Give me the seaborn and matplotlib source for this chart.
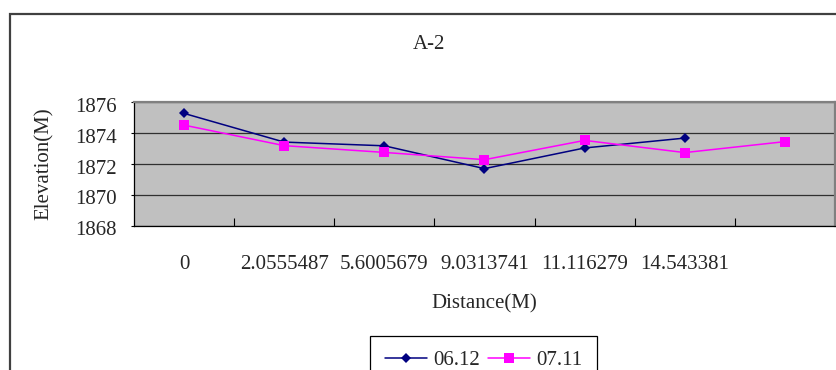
import numpy as np
import matplotlib
matplotlib.use("Agg")
import matplotlib.pyplot as plt
import seaborn as sns
from matplotlib.patches import Rectangle
from matplotlib.transforms import ScaledTranslation

# Cross-section A-2: elevation along the profile for two survey dates
distance_labels = ["0", "2.0555487", "5.6005679", "9.0313741",
                   "11.116279", "14.543381", ""]
elev_0612 = [1875.28, 1873.42, 1873.18, 1871.70, 1873.04, 1873.68, np.nan]
elev_0711 = [1874.52, 1873.19, 1872.75, 1872.28, 1873.53, 1872.74, 1873.45]
series_names = ["06.12", "07.11"]
y_ticks = [1868, 1870, 1872, 1874, 1876]

sns.set_style("white")
plt.rcParams["font.family"] = ["Liberation Serif", "DejaVu Serif"]
plt.rcParams["font.size"] = 15

W, H = 837, 370
fig = plt.figure(figsize=(W / 100, H / 100), dpi=100)
fig.patch.set_facecolor("white")

# chart frame (runs off the right and bottom edges)
fig.add_artist(Rectangle((9.5 / W, -0.2), 1.2, 1.2 - 14 / H,
                         transform=fig.transFigure, fill=False,
                         edgecolor="#404040", linewidth=1.6))

ax = fig.add_axes([134 / W, 1 - 225.7 / H, (835 - 134) / W, (225.7 - 102.3) / H])
ax.set_facecolor("#C0C0C0")
ax.set_axisbelow(True)

pos = np.arange(len(distance_labels))
sns.lineplot(x=pos, y=elev_0612, ax=ax, color="#000080", marker="D",
             markersize=5.2, markeredgewidth=0, linewidth=1.1,
             label=series_names[0], errorbar=None)
sns.lineplot(x=pos, y=elev_0711, ax=ax, color="#FF00FF", marker="s",
             markersize=6.7, markeredgewidth=0, linewidth=1.1,
             label=series_names[1], errorbar=None)

ax.set_xlim(-0.5, len(distance_labels) - 0.5)
ax.set_ylim(y_ticks[0], y_ticks[-1])

# category boundaries carry the tick marks, category centres carry the labels
ax.set_xticks(np.arange(0.5, len(distance_labels), 1))
ax.set_xticklabels([])
ax.set_xticks(pos, labels=distance_labels, minor=True)
ax.tick_params(axis="x", which="major", direction="in", length=5.8,
               width=0.8, color="black", bottom=True)
ax.tick_params(axis="x", which="minor", length=0, pad=21, labelsize=15,
               bottom=True)

ax.set_yticks(y_ticks)
ax.tick_params(axis="y", direction="out", length=2.2, width=0.8,
               color="black", pad=10, labelsize=15, left=True)
for lab in ax.get_yticklabels():
    lab.set_transform(lab.get_transform() +
                      ScaledTranslation(0, -2.5 / 100, fig.dpi_scale_trans))

ax.yaxis.grid(True, color="#303030", linewidth=0.9)
ax.xaxis.grid(False)

for side in ("top", "right"):
    ax.spines[side].set_color("#808080")
    ax.spines[side].set_linewidth(1.6)
for side in ("left", "bottom"):
    ax.spines[side].set_color("black")
    ax.spines[side].set_linewidth(0.9)

ax.set_xlabel("Distance(M)", fontsize=15)
ax.set_ylabel("Elevation(M)", fontsize=15)
ax.xaxis.set_label_coords(0.5, -(294 - 225.7) / 123.4)
ax.yaxis.set_label_coords((54 - 134) / 701, 0.5)

fig.text(429 / W, 1 - 44.5 / H, "A-2", ha="center", va="center", fontsize=15)

ax.legend(loc="upper center", bbox_to_anchor=(483.5 / W, 1 - 336 / H),
          bbox_transform=fig.transFigure, ncol=2, frameon=True,
          fancybox=False, framealpha=1, edgecolor="black", fontsize=15,
          handlelength=2.0, handletextpad=0.3, columnspacing=0.4,
          borderpad=0.7, borderaxespad=0)
ax.get_legend().get_frame().set_linewidth(0.9)

fig.savefig("out.png", dpi=100)
